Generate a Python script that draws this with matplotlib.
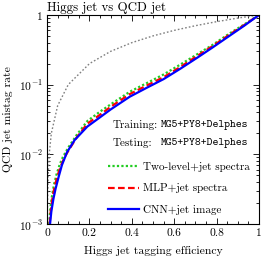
import numpy as np
import matplotlib
matplotlib.use("Agg")
import matplotlib.pyplot as plt
from matplotlib.ticker import MultipleLocator, FixedLocator, NullFormatter

plt.rcParams['font.family'] = ['cmr10']
plt.rcParams['mathtext.fontset'] = 'cm'
plt.rcParams['axes.formatter.use_mathtext'] = True

# random guess line (diagonal)
eff_rand = [0.0005, 0.001, 0.002, 0.005, 0.01, 0.02, 0.05, 0.1, 0.2, 0.3, 0.4, 0.5, 0.6, 0.7, 0.8, 0.9, 1.0]
mis_rand = [0.0005, 0.001, 0.002, 0.005, 0.01, 0.02, 0.05, 0.1, 0.2, 0.3, 0.4, 0.5, 0.6, 0.7, 0.8, 0.9, 1.0]

# Two-level + jet spectra
eff_two = [0.010, 0.015, 0.022, 0.032, 0.045, 0.06, 0.075, 0.10, 0.14, 0.19, 0.25, 0.30, 0.39, 0.47, 0.55, 0.63, 0.71, 0.78, 0.86, 0.93, 1.0]
mis_two = [0.001, 0.0016, 0.0024, 0.0036, 0.0052, 0.0072, 0.0092, 0.0125, 0.019, 0.030, 0.041, 0.052, 0.079, 0.105, 0.14, 0.195, 0.275, 0.37, 0.54, 0.73, 1.0]

# MLP + jet spectra
eff_mlp = [0.012, 0.017, 0.025, 0.035, 0.05, 0.065, 0.082, 0.10, 0.14, 0.19, 0.25, 0.30, 0.39, 0.47, 0.55, 0.63, 0.71, 0.78, 0.86, 0.93, 1.0]
mis_mlp = [0.001, 0.0015, 0.0023, 0.0034, 0.0050, 0.0068, 0.0090, 0.0112, 0.0175, 0.0275, 0.037, 0.048, 0.073, 0.097, 0.128, 0.18, 0.26, 0.355, 0.52, 0.715, 1.0]

# CNN + jet image
eff_cnn = [0.014, 0.02, 0.03, 0.04, 0.055, 0.07, 0.094, 0.13, 0.19, 0.25, 0.30, 0.39, 0.47, 0.55, 0.63, 0.71, 0.78, 0.86, 0.93, 1.0]
mis_cnn = [0.001, 0.0015, 0.0023, 0.0032, 0.0048, 0.007, 0.0107, 0.016, 0.025, 0.034, 0.044, 0.067, 0.090, 0.12, 0.17, 0.245, 0.34, 0.50, 0.70, 1.0]

fig = plt.figure(figsize=(2.66, 2.66), dpi=100)
ax = fig.add_axes([0.177, 0.158, 0.797, 0.786])

ax.plot(eff_rand, mis_rand, color='#808080', ls=(0, (1.2, 1.5)), lw=1.0)
ax.plot(eff_two, mis_two, color='#22cc22', ls=(0, (1, 1)), lw=1.6, label='Two-level+jet spectra')
ax.plot(eff_mlp, mis_mlp, color='red', ls=(0, (3, 1.5)), lw=1.6, label='MLP+jet spectra')
ax.plot(eff_cnn, mis_cnn, color='blue', ls='-', lw=1.6, label='CNN+jet image')

ax.set_xlim(0, 1)
ax.set_yscale('log')
ax.set_ylim(1e-3, 1)

ax.set_xticks([0, 0.2, 0.4, 0.6, 0.8, 1.0])
ax.set_xticklabels(['0', '0.2', '0.4', '0.6', '0.8', '1'])
ax.xaxis.set_minor_locator(MultipleLocator(0.05))
ax.set_yticks([1e-3, 1e-2, 1e-1, 1])
ax.set_yticklabels([r'$10^{-3}$', r'$10^{-2}$', r'$10^{-1}$', r'$1$'])
ax.yaxis.set_minor_locator(FixedLocator([m * 10.0**e for e in (-3, -2, -1) for m in range(2, 10)]))
ax.yaxis.set_minor_formatter(NullFormatter())

ax.tick_params(which='both', direction='in', top=True, right=True, labelsize=8.3, width=0.6)
ax.tick_params(which='major', length=4, pad=3)
ax.tick_params(which='minor', length=2)
for s in ax.spines.values():
    s.set_linewidth(0.8)

ax.set_xlabel('Higgs jet tagging efficiency', fontsize=8.4, labelpad=6)
ax.set_ylabel('QCD jet mistag rate', fontsize=8.4, labelpad=4)
ax.set_title('Higgs jet vs QCD jet', loc='left', fontsize=9.3, pad=3)

ax.text(0.311, 0.474, 'Training:', transform=ax.transAxes, fontsize=8, va='center')
ax.text(0.538, 0.474, 'MG5+PY8+Delphes', transform=ax.transAxes, fontsize=8, va='center', family='cmtt10')
ax.text(0.311, 0.388, 'Testing:', transform=ax.transAxes, fontsize=8, va='center')
ax.text(0.538, 0.388, 'MG5+PY8+Delphes', transform=ax.transAxes, fontsize=8, va='center', family='cmtt10')

ax.legend(loc='lower left', bbox_to_anchor=(0.288, 0.045), frameon=False, fontsize=8,
          handlelength=2.8, handletextpad=0.35, labelspacing=1.0, borderpad=0, borderaxespad=0)

fig.savefig('out.png', dpi=100)
